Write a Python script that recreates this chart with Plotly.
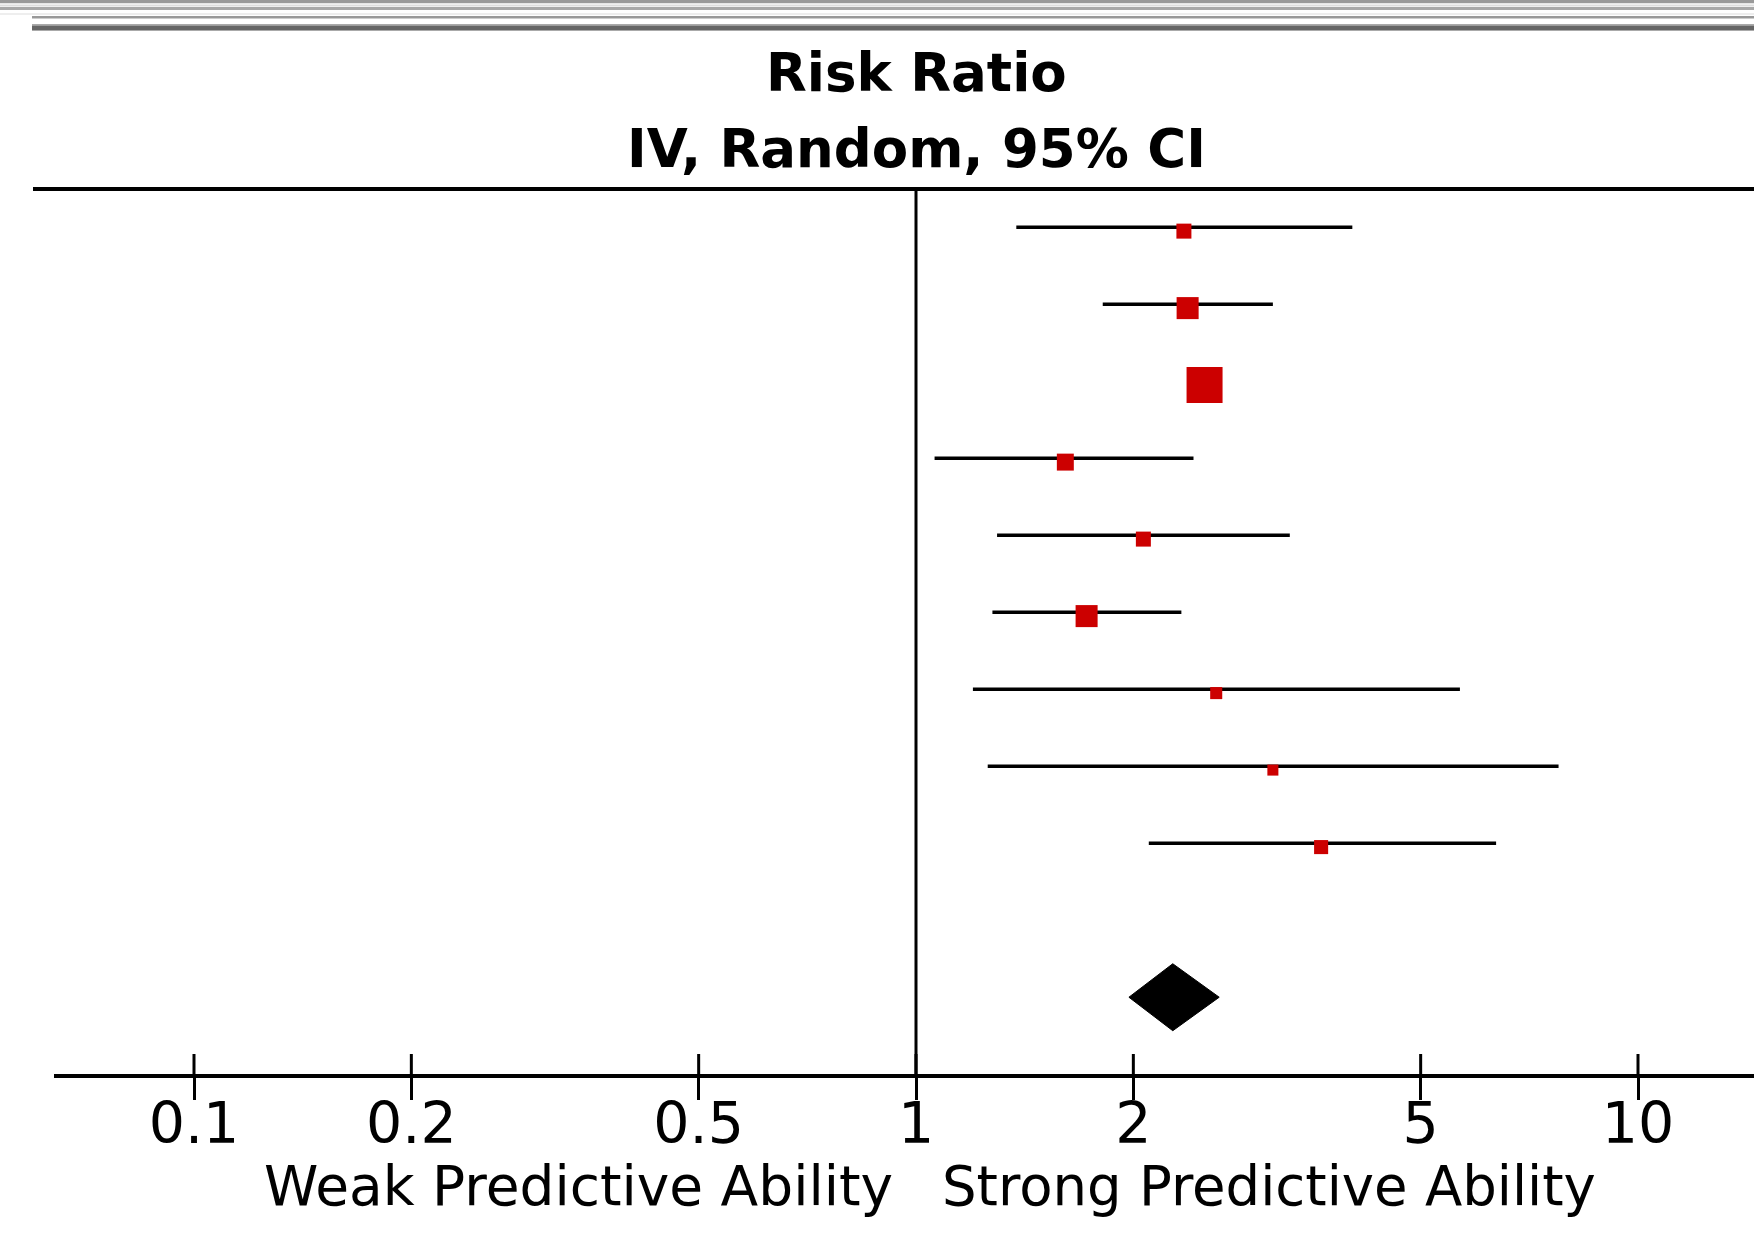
import math
import plotly.graph_objects as go

# ---------------- data ----------------
study_rr = [2.350, 2.378, 2.510, 1.610, 2.065, 1.723, 2.605, 3.121, 3.640]
study_lo = [1.377, 1.814, 2.420, 1.061, 1.295, 1.276, 1.199, 1.257, 2.101]
study_hi = [4.021, 3.121, 2.600, 2.423, 3.294, 2.331, 5.667, 7.762, 6.360]
study_weight = [6.5, 14.0, 37.4, 8.3, 6.5, 14.0, 4.2, 3.5, 5.7]

pooled_rr = 2.268
pooled_lo = 1.972
pooled_hi = 2.630

tick_vals = [0.1, 0.2, 0.5, 1, 2, 5, 10]
tick_text = ["0.1", "0.2", "0.5", "1", "2", "5", "10"]

title_lines = ["Risk Ratio", "IV, Random, 95% CI"]
label_left = "Weak Predictive Ability"
label_right = "Strong Predictive Ability"

# ---------------- geometry / style ----------------
W, H = 1754, 1257
PLOT_L, PLOT_T, PLOT_B = 54, 189, 1074
X_ONE_PX, DECADE_PX = 916, 722
FONT = "DejaVu Sans"
RED = "#CC0000"
MARKER_DROP = 0.05
DIAMOND_HALF = 0.435
SIZE_K = 5.886

x_range = [(PLOT_L - X_ONE_PX) / DECADE_PX, (W - X_ONE_PX) / DECADE_PX]


def py(p):
    return (PLOT_B - p) / (PLOT_B - PLOT_T)


def px(p):
    return (p - PLOT_L) / (W - PLOT_L)


n = len(study_rr)
rows = list(range(n))
pooled_row = n + 1

fig = go.Figure()

# CI lines
ci_x, ci_y = [], []
for lo, hi, r in zip(study_lo, study_hi, rows):
    ci_x += [lo, hi, None]
    ci_y += [r, r, None]
fig.add_trace(go.Scatter(x=ci_x, y=ci_y, mode="lines",
                         line=dict(color="black", width=3.5),
                         hoverinfo="skip", showlegend=False))

# study squares
fig.add_trace(go.Scatter(
    x=study_rr, y=[r + MARKER_DROP for r in rows], mode="markers",
    marker=dict(symbol="square", color=RED, opacity=1,
                size=[SIZE_K * math.sqrt(w) for w in study_weight],
                line=dict(width=0)),
    showlegend=False))

# pooled diamond
fig.add_trace(go.Scatter(
    x=[pooled_lo, pooled_rr, pooled_hi, pooled_rr, pooled_lo],
    y=[pooled_row, pooled_row - DIAMOND_HALF, pooled_row,
       pooled_row + DIAMOND_HALF, pooled_row],
    mode="lines", fill="toself", fillcolor="black",
    line=dict(color="black", width=1), showlegend=False))

shapes = []
# window decoration bands at the top
bands = [
    (0, 3.3, 0, W, "#999999"),
    (4.5, 6.5, 0, W, "#dddddd"),
    (7, 10, 0, W, "#a8a8a8"),
    (13, 15, 0, W, "#eeeeee"),
    (16, 18.5, 32, W, "#999999"),
    (24, 25.5, 32, W, "#aaaaaa"),
    (25.5, 30, 32, W, "#666666"),
    (30, 31, 32, W, "#aaaaaa"),
]
for y0, y1, x0, x1, c in bands:
    shapes.append(dict(type="rect", xref="paper", yref="paper",
                       x0=px(x0), x1=px(x1), y0=py(y1), y1=py(y0),
                       fillcolor=c, line=dict(width=0), layer="above"))
# header rule
shapes.append(dict(type="line", xref="paper", yref="paper",
                   x0=px(33), x1=px(W), y0=1, y1=1,
                   line=dict(color="black", width=4)))
# line of no effect (shapes take data values on log axes)
shapes.append(dict(type="line", xref="x", yref="paper",
                   x0=1, x1=1, y0=0, y1=1,
                   line=dict(color="black", width=3)))
# upper halves of the crossing ticks
for t in tick_vals:
    shapes.append(dict(type="line", xref="x", yref="paper",
                       x0=t, x1=t,
                       ysizemode="pixel", yanchor=0, y0=0, y1=20,
                       line=dict(color="black", width=3)))

annotations = [
    dict(text="<b>%s</b>" % title_lines[0], xref="x", yref="paper",
         x=0, y=1, yanchor="middle", xanchor="center", yshift=117,
         showarrow=False, font=dict(family=FONT, size=53, color="black")),
    dict(text="<b>%s</b>" % title_lines[1], xref="x", yref="paper",
         x=0, y=1, yanchor="middle", xanchor="center", yshift=41,
         showarrow=False, font=dict(family=FONT, size=53, color="black")),
    dict(text=label_left, xref="x", yref="paper", x=0, y=0,
         xanchor="right", yanchor="middle", xshift=-21, yshift=-112,
         showarrow=False, font=dict(family=FONT, size=55, color="black")),
    dict(text=label_right, xref="x", yref="paper", x=0, y=0,
         xanchor="left", yanchor="middle", xshift=24, yshift=-112,
         showarrow=False, font=dict(family=FONT, size=54.5, color="black")),
]

fig.update_layout(
    width=W, height=H,
    margin=dict(l=PLOT_L, r=0, t=PLOT_T, b=H - PLOT_B, pad=0),
    paper_bgcolor="white", plot_bgcolor="white",
    shapes=shapes, annotations=annotations, showlegend=False,
    xaxis=dict(type="log", range=x_range, showgrid=False, zeroline=False,
               showline=True, linecolor="black", linewidth=4,
               tickmode="array", tickvals=tick_vals, ticktext=tick_text,
               ticks="outside", ticklen=22, tickwidth=3, tickcolor="black",
               ticklabelstandoff=-25,
               tickfont=dict(family=FONT, size=57, color="black")),
    yaxis=dict(range=[10.997, -0.497], visible=False, showgrid=False,
               zeroline=False, fixedrange=True),
)

fig.write_html(
    "out.html",
    config={"displayModeBar": False},
    post_script="document.body.style.margin='0';"
                "document.body.style.overflow='hidden';",
)
